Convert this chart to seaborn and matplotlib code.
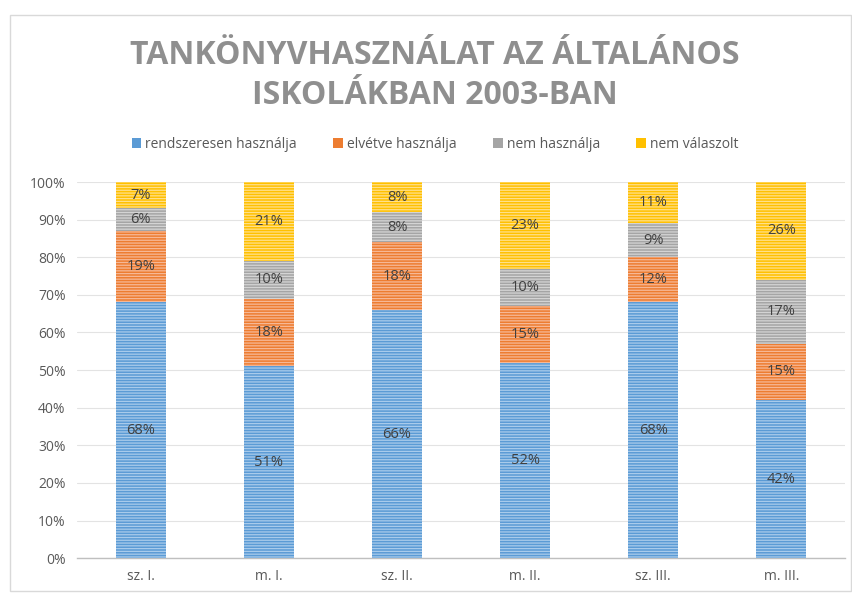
import numpy as np
import pandas as pd
import matplotlib
matplotlib.use("Agg")
import matplotlib.pyplot as plt
import seaborn as sns
from matplotlib.patches import Patch, Rectangle

# data
groups = ["sz. I.", "m. I.", "sz. II.", "m. II.", "sz. III.", "m. III."]
series = ["rendszeresen használja", "elvétve használja", "nem használja", "nem válaszolt"]
rendszeresen = [68, 51, 66, 52, 68, 42]
elvetve = [19, 18, 18, 15, 12, 15]
nem_hasznalja = [6, 10, 8, 10, 9, 17]
nem_valaszolt = [7, 21, 8, 23, 11, 26]

colors = ["#5B9BD5", "#ED7D31", "#A5A5A5", "#FFC000"]
hatch_colors = ["#A9CBEB", "#F6B896", "#D4D4D4", "#FFE08A"]

sns.set_theme(style="white")
plt.rcParams["font.family"] = ["Open Sans", "DejaVu Sans"]
plt.rcParams["hatch.linewidth"] = 0.9

df = pd.DataFrame({
    "group": groups,
    series[0]: rendszeresen,
    series[1]: elvetve,
    series[2]: nem_hasznalja,
    series[3]: nem_valaszolt,
})
values = df[series].to_numpy(dtype=float)
cum = values.cumsum(axis=1)

fig = plt.figure(figsize=(8.53, 5.95), dpi=100)
ax = fig.add_axes([0.090, 0.062, 0.901, 0.632])

# chart border
fig.patches.append(Rectangle((0.012, 0.006), 0.986, 0.968, transform=fig.transFigure,
                             fill=False, edgecolor="#D9D9D9", linewidth=1))

# stacked bars drawn as overlapping cumulative bars, tallest first
for i in range(len(series) - 1, -1, -1):
    tmp = pd.DataFrame({"group": groups, "val": cum[:, i]})
    sns.barplot(data=tmp, x="group", y="val", color=colors[i], width=0.39,
                saturation=1, ax=ax, hatch="------", edgecolor=hatch_colors[i],
                linewidth=0, zorder=3)

for patch in ax.patches:
    patch.set_linewidth(0)

# segment labels
for j in range(len(groups)):
    for i in range(len(series)):
        mid = cum[j, i] - values[j, i] / 2
        ax.text(j, mid, f"{int(values[j, i])}%", ha="center", va="center",
                fontsize=10.5, color="#404040", zorder=5)

ax.set_ylim(0, 100)
ax.set_xlim(-0.5, len(groups) - 0.5)
ax.set_yticks(np.arange(0, 101, 10))
ax.set_yticklabels([f"{v}%" for v in range(0, 101, 10)])
ax.yaxis.grid(True, color="#E3E3E3", linewidth=0.8, zorder=0)
ax.set_axisbelow(True)
ax.set_xlabel("")
ax.set_ylabel("")
for side in ["top", "right", "left"]:
    ax.spines[side].set_visible(False)
ax.spines["bottom"].set_color("#BFBFBF")
ax.spines["bottom"].set_linewidth(1)
ax.tick_params(axis="both", length=0, labelsize=10, colors="#595959", pad=8)

fig.text(0.51, 0.873, "TANKÖNYVHASZNÁLAT AZ ÁLTALÁNOS\nISKOLÁKBAN 2003-BAN",
         ha="center", va="center", fontsize=23, fontweight="bold",
         color="#8F8F8F", linespacing=1.3)

handles = [Patch(facecolor=c, edgecolor="none") for c in colors]
fig.legend(handles, series, loc="center", bbox_to_anchor=(0.51, 0.757), ncol=4,
           frameon=False, fontsize=10, handlelength=0.7, handleheight=0.7,
           handletextpad=0.3, columnspacing=2.6, labelcolor="#595959")

fig.savefig("out.png", dpi=100)
